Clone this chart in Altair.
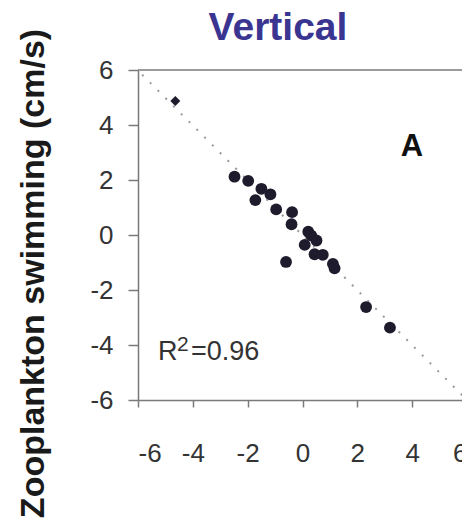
import altair as alt
import pandas as pd

# data
flow_x = [-2.48, -1.98, -1.50, -1.17, -1.72, -0.96, -0.38, -0.40, 0.21, 0.32,
          0.51, 0.08, 0.44, 0.74, 1.11, 1.17, -0.60, 2.32, 3.19]
swim_y = [2.12, 1.97, 1.68, 1.48, 1.27, 0.93, 0.83, 0.39, 0.12, -0.02,
          -0.20, -0.36, -0.70, -0.72, -1.05, -1.21, -0.98, -2.62, -3.37]
outlier_x = [-4.64]
outlier_y = [4.87]
fit_x = [-5.85, 5.9]
fit_y = [5.83, -5.9]
tick_values = [-6, -4, -2, 0, 2, 4, 6]

pts = pd.DataFrame({"x": flow_x, "y": swim_y})
out = pd.DataFrame({"x": outlier_x, "y": outlier_y})
fit = pd.DataFrame({"x": fit_x, "y": fit_y})
one = pd.DataFrame({"k": [0]})

FONT = "Liberation Sans"
xs = alt.Scale(domain=[-6, 6], range=[0, 329], nice=False, zero=False)
ys = alt.Scale(domain=[-6, 6], nice=False, zero=False)

xaxis = alt.Axis(values=tick_values, title=None, grid=False, tickSize=7,
                 labelPadding=33, labelFontSize=26, labelFont=FONT,
                 labelExpr="'' + datum.value",
                 labelColor="#333333", domainColor="#7a7a7a", tickColor="#7a7a7a",
                 domainWidth=1.5, tickWidth=1.5, labelBaseline="top")
yaxis = alt.Axis(values=tick_values, title="Zooplankton swimming (cm/s)", grid=False,
                 tickSize=10, labelPadding=15, labelFontSize=26, labelFont=FONT,
                 labelExpr="'' + datum.value",
                 labelColor="#333333", domainColor="#7a7a7a", tickColor="#7a7a7a",
                 domainWidth=1.5, tickWidth=1.5,
                 titleFont=FONT, titleFontSize=34, titleFontWeight="bold",
                 titleColor="#1a1a1a", titleAngle=270, titleX=-95, titleY=203,
                 titleAlign="center", titleBaseline="alphabetic")

line = alt.Chart(fit).mark_line(color="#9a9a9a", strokeWidth=2, strokeDash=[2, 9]).encode(
    x=alt.X("x:Q", scale=xs, axis=xaxis),
    y=alt.Y("y:Q", scale=ys, axis=yaxis),
)
points = alt.Chart(pts).mark_circle(size=140, color="#1d1b2c", opacity=1).encode(
    x=alt.X("x:Q", scale=xs), y=alt.Y("y:Q", scale=ys))
diamond = alt.Chart(out).mark_point(shape="diamond", size=100, filled=True,
                                    color="#1d1b2c", opacity=1).encode(
    x=alt.X("x:Q", scale=xs), y=alt.Y("y:Q", scale=ys))

top_border = alt.Chart(one).mark_rule(color="#7a7a7a", strokeWidth=1.5).encode(
    x=alt.value(0), x2=alt.value(329), y=alt.value(0))

def label(text, x, y, size, weight="normal", color="#222222", align="left"):
    return alt.Chart(one).mark_text(text=text, font=FONT, fontSize=size,
                                    fontWeight=weight, color=color, align=align,
                                    baseline="alphabetic").encode(
        x=alt.value(x), y=alt.value(y))

title = label("Vertical", 140, -30, 39, "bold", "#3b3592", "center")
a_lbl = label("A", 274, 86, 31, "bold", "#111111", "center")
r_lbl = label("R", 20, 290, 27, color="#333333")
sup = label("2", 39, 281, 21, color="#333333")
r_val = label("=0.96", 53, 290, 27, color="#333333")

chart = alt.layer(line, top_border, points, diamond, title, a_lbl, r_lbl, sup, r_val).properties(
    width=324, height=330,
    autosize=alt.AutoSizeParams(type="none"),
    padding={"left": 138, "right": 0, "top": 70, "bottom": 119},
    background="white",
).configure_view(stroke=None)

chart.save("out.html", embed_options={"renderer": "svg", "actions": False})
